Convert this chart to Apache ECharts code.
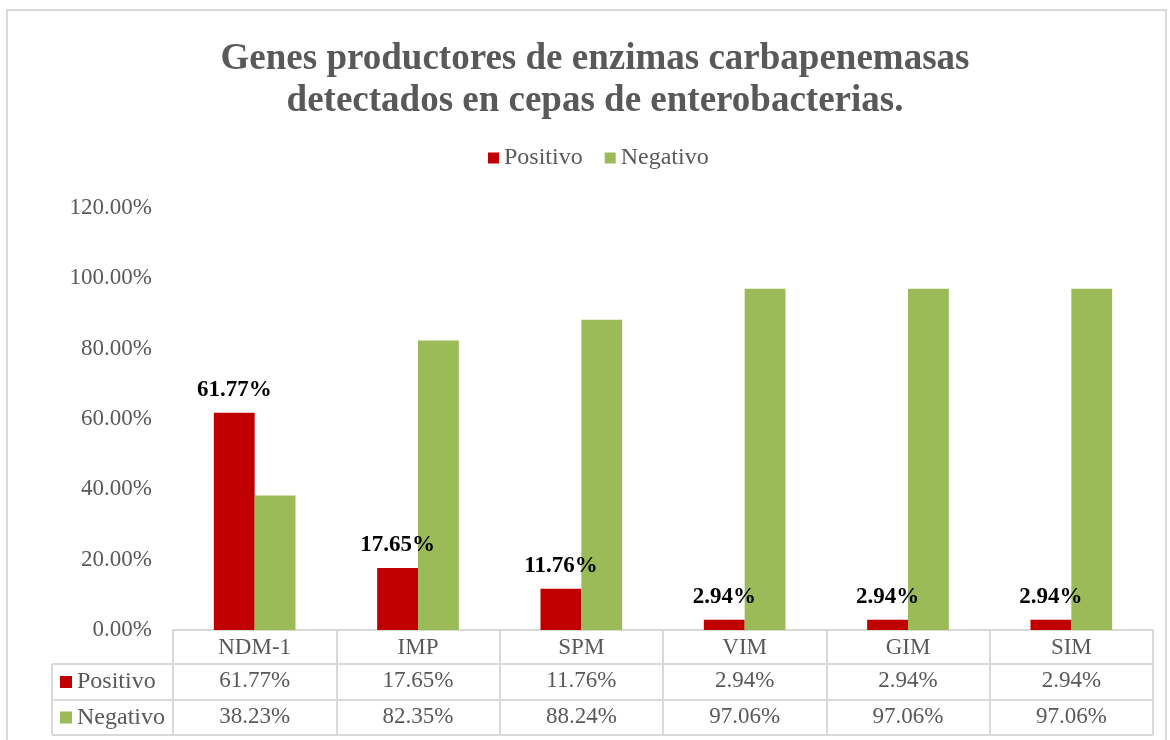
<!DOCTYPE html>
<html>
<head>
<meta charset="utf-8">
<script src="https://cdn.jsdelivr.net/npm/echarts@6/dist/echarts.min.js"></script>
<style>
  html, body { margin: 0; padding: 0; background: #fff; }
  #chart { width: 1170px; height: 740px; }
</style>
</head>
<body>
<div id="chart"></div>
<script>
// data
const categories = ['NDM-1', 'IMP', 'SPM', 'VIM', 'GIM', 'SIM']
const positivo = [61.77, 17.65, 11.76, 2.94, 2.94, 2.94]
const negativo = [38.23, 82.35, 88.24, 97.06, 97.06, 97.06]
const seriesNames = ['Positivo', 'Negativo']
const yTicks = { min: 0, max: 120, interval: 20 }
const titleLines = ['Genes productores de enzimas carbapenemasas', 'detectados en cepas de enterobacterias.']

const FONT = '"Liberation Serif", "Times New Roman", serif'
const GRAY = '#595959'
const LINE = '#D9D9D9'
const RED = '#C00000'
const GREEN = '#9BBB59'

const fmt = v => v.toFixed(2) + '%'

// grid edges (px)
const G = { left: 173, right: 1153, top: 208, bottom: 630 }
const tableLeft = 52
const rowLines = [664, 700, 735]

const chart = echarts.init(document.getElementById('chart'))

function extraGraphics () {
  const items = []
  // outer chart border
  items.push({
    type: 'rect',
    shape: { x: 7, y: 10, width: 1159, height: 740 },
    style: { fill: 'none', stroke: LINE, lineWidth: 2 },
    silent: true
  })
  // title, a little right of centre like the original
  items.push({
    type: 'text',
    x: 595,
    y: 38,
    style: {
      text: titleLines.join('\n'),
      fill: GRAY,
      font: 'bold 37px ' + FONT,
      lineHeight: 42,
      align: 'center',
      verticalAlign: 'top'
    },
    silent: true
  })
  rowLines.forEach(y => {
    items.push({
      type: 'line',
      shape: { x1: tableLeft, y1: y, x2: G.right, y2: y },
      style: { stroke: LINE, lineWidth: 2 },
      silent: true
    })
  })
  items.push({
    type: 'line',
    shape: { x1: tableLeft, y1: rowLines[0], x2: tableLeft, y2: rowLines[2] },
    style: { stroke: LINE, lineWidth: 2 },
    silent: true
  })
  // row headers with legend keys
  const colors = [RED, GREEN]
  seriesNames.forEach((name, i) => {
    const cy = (rowLines[i] + rowLines[i + 1]) / 2
    items.push({
      type: 'rect',
      shape: { x: 60, y: cy - 6, width: 12, height: 12 },
      style: { fill: colors[i] },
      silent: true
    })
    items.push({
      type: 'text',
      x: 77,
      y: cy,
      style: {
        text: name,
        fill: GRAY,
        font: '24px ' + FONT,
        verticalAlign: 'middle'
      },
      silent: true
    })
  })
  return items
}

const rowAxis = (values, offset) => ({
  type: 'category',
  data: values.map(fmt),
  position: 'bottom',
  offset: offset,
  axisLine: { show: false },
  axisTick: { show: false },
  axisLabel: {
    interval: 0,
    color: GRAY,
    fontFamily: FONT,
    fontSize: 23,
    margin: 17,
    verticalAlign: 'middle'
  }
})

chart.setOption({
  animation: false,
  textStyle: { fontFamily: FONT },
  legend: {
    data: seriesNames,
    top: 146,
    left: 488,
    padding: 0,
    icon: 'rect',
    itemWidth: 11,
    itemHeight: 11,
    itemGap: 22,
    textStyle: { color: GRAY, fontFamily: FONT, fontSize: 24 }
  },
  grid: {
    left: G.left,
    right: 1170 - G.right,
    top: G.top,
    bottom: 740 - G.bottom,
    containLabel: false
  },
  xAxis: [
    {
      type: 'category',
      data: categories,
      axisLine: { lineStyle: { color: LINE, width: 2 } },
      axisTick: {
        show: true,
        alignWithLabel: false,
        length: 105,
        lineStyle: { color: LINE, width: 2 }
      },
      axisLabel: {
        interval: 0,
        color: GRAY,
        fontFamily: FONT,
        fontSize: 23,
        margin: 18,
        verticalAlign: 'middle'
      }
    },
    rowAxis(positivo, 34),
    rowAxis(negativo, 70)
  ],
  yAxis: {
    type: 'value',
    min: yTicks.min,
    max: yTicks.max,
    interval: yTicks.interval,
    axisLine: { show: false },
    axisTick: { show: false },
    splitLine: { show: false },
    axisLabel: {
      color: GRAY,
      fontFamily: FONT,
      fontSize: 23,
      margin: 21,
      formatter: v => fmt(v)
    }
  },
  series: [
    {
      name: seriesNames[0],
      type: 'bar',
      data: positivo,
      barGap: '0%',
      barCategoryGap: '50%',
      itemStyle: { color: RED },
      label: {
        show: true,
        position: 'top',
        distance: 11,
        color: '#000',
        fontFamily: FONT,
        fontSize: 23,
        fontWeight: 'bold',
        formatter: p => fmt(p.value)
      }
    },
    {
      name: seriesNames[1],
      type: 'bar',
      data: negativo,
      barGap: '0%',
      barCategoryGap: '50%',
      itemStyle: { color: GREEN }
    }
  ],
  graphic: extraGraphics()
})
</script>
</body>
</html>
